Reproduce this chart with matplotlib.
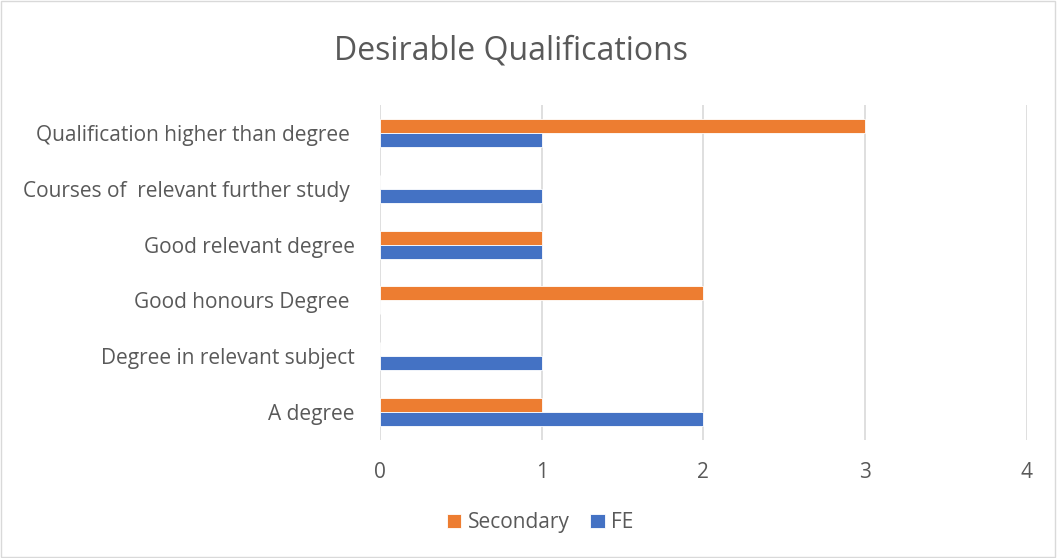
import numpy as np
import matplotlib.pyplot as plt
from matplotlib.patches import Rectangle

# data, bottom to top
categories = ["A degree", "Degree in relevant subject", "Good honours Degree ",
              "Good relevant degree", "Courses of  relevant further study ",
              "Qualification higher than degree "]
secondary = [1, 0, 2, 1, 0, 3]
fe = [2, 1, 0, 1, 1, 1]
xticks = [0, 1, 2, 3, 4]

plt.rcParams['font.family'] = ['Open Sans', 'DejaVu Sans']
txt = '#595959'

fig = plt.figure(figsize=(10.57, 5.58), dpi=100)
ax = fig.add_axes([0.3595, 0.2115, 0.612, 0.6003])

y = np.arange(len(categories))
h = 0.25
ax.barh(y + h / 2, secondary, height=h, color='#ED7D31', edgecolor='white', linewidth=0.6, label='Secondary', zorder=3)
ax.barh(y - h / 2, fe, height=h, color='#4472C4', edgecolor='white', linewidth=0.6, label='FE', zorder=3)

ax.set_xlim(0, 4)
ax.set_ylim(-0.5, len(categories) - 0.5)
ax.set_xticks(xticks)
ax.set_yticks(y)
ax.set_yticklabels(categories)
ax.xaxis.grid(True, color='#D9D9D9', linewidth=1.2, zorder=0)
for s in ax.spines.values():
    s.set_visible(False)
ax.tick_params(axis='both', length=0, labelsize=15, colors=txt)
ax.tick_params(axis='y', pad=18)
ax.tick_params(axis='x', pad=16)

fig.suptitle("Desirable Qualifications", fontsize=23, color=txt, x=0.483, y=0.938)

leg = fig.legend(loc='center', bbox_to_anchor=(0.511, 0.063), ncol=2, frameon=False,
                 fontsize=15, handlelength=0.7, handleheight=0.7, handletextpad=0.3,
                 columnspacing=1.0)
for t in leg.get_texts():
    t.set_color(txt)

fig.patches.append(Rectangle((0.001, 0.002), 0.997, 0.996, transform=fig.transFigure,
                             fill=False, edgecolor='#D9D9D9', linewidth=1))

fig.savefig("out.png", dpi=100)
